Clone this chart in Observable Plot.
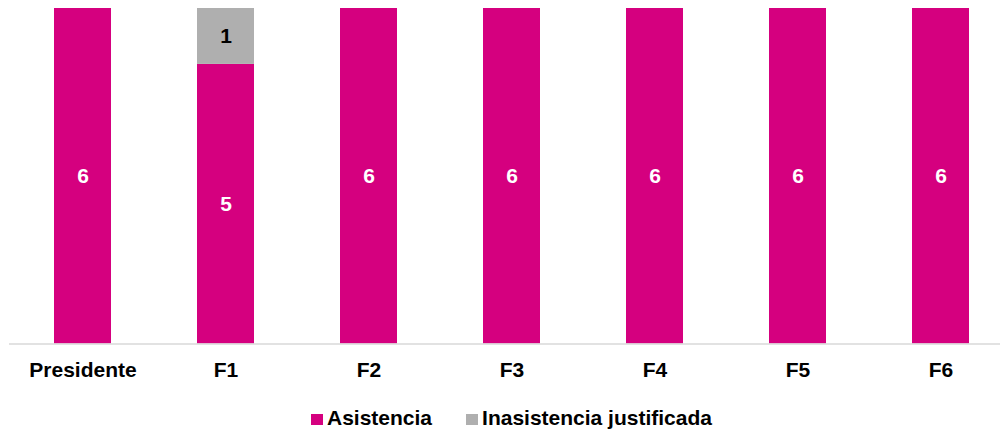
<!DOCTYPE html>
<html>
<head>
<meta charset="utf-8">
<script src="https://cdn.jsdelivr.net/npm/d3@7"></script>
<script src="https://cdn.jsdelivr.net/npm/@observablehq/plot@0.6"></script>
<style>
  html, body { margin: 0; padding: 0; background: #fff; }
  body { font-family: "Liberation Sans", Arial, sans-serif; width: 1002px; height: 432px; overflow: hidden; }
  #legend { height: 40px; box-sizing: border-box; padding-top: 12px; padding-left: 311px; display: flex; align-items: center; font-weight: bold; font-size: 21px; color: #000; }
  .item { display: flex; align-items: center; margin-right: 34px; }
  .sw { width: 12px; height: 11px; margin-right: 4px; margin-top: 2px; }
</style>
</head>
<body>
<div id="chart"></div>
<div id="legend"></div>
<script>
const categories = ["Presidente", "F1", "F2", "F3", "F4", "F5", "F6"];
const asistencia = [6, 5, 6, 6, 6, 6, 6];
const inasistencia = [0, 1, 0, 0, 0, 0, 0];
const seriesNames = ["Asistencia", "Inasistencia justificada"];
const seriesColors = ["#D5007F", "#AFAFAF"];
const labelColors = ["#FFFFFF", "#000000"];

const rows = [];
[asistencia, inasistencia].forEach((vals, si) => {
  categories.forEach((c, i) => {
    rows.push({ category: c, series: seriesNames[si], value: vals[i] });
  });
});

const chart = Plot.plot({
  width: 1002,
  height: 392,
  marginTop: 8,
  marginBottom: 48.5,
  marginLeft: 9,
  marginRight: 2,
  style: { fontFamily: "'Liberation Sans', Arial, sans-serif", background: "#fff" },
  x: {
    domain: categories,
    range: [9.25, 1013.75],
    paddingInner: 0.6,
    paddingOuter: 0.3,
    label: null
  },
  y: { domain: [0, 6], axis: null },
  color: { domain: seriesNames, range: seriesColors },
  marks: [
    Plot.barY(rows, Plot.stackY({ x: "category", y: "value", z: "series", fill: "series" })),
    Plot.ruleY([0], { stroke: "#D9D9D9", strokeWidth: 1.5 }),
    Plot.axisX({ tickSize: 0, tickPadding: 18, fontSize: 21, fontWeight: "bold", fill: "#000", label: null }),
    Plot.text(rows, Plot.stackY({
      x: "category", y: "value", z: "series",
      text: d => d.value > 0 ? String(d.value) : "",
      fill: d => labelColors[seriesNames.indexOf(d.series)],
      fontSize: 21, fontWeight: "bold"
    }))
  ]
});
document.getElementById("chart").appendChild(chart);

const legend = document.getElementById("legend");
seriesNames.forEach((name, i) => {
  const item = document.createElement("div");
  item.className = "item";
  const sw = document.createElement("span");
  sw.className = "sw";
  sw.style.background = seriesColors[i];
  const t = document.createElement("span");
  t.textContent = name;
  item.appendChild(sw);
  item.appendChild(t);
  legend.appendChild(item);
});
</script>
</body>
</html>
